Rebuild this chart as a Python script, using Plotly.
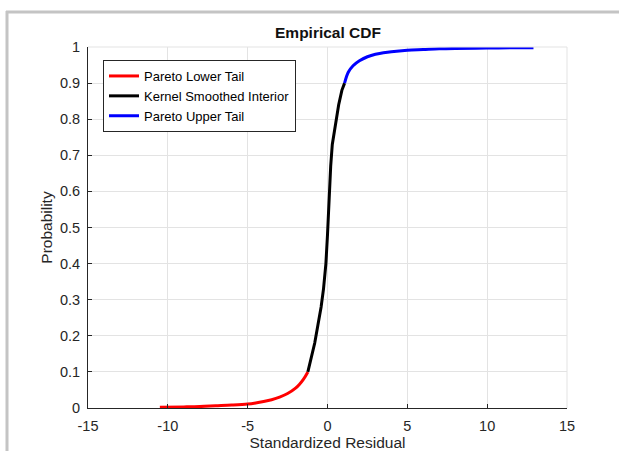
import plotly.graph_objects as go

# Data
lower_x = [-10.5, -9.0, -8.0, -7.0, -6.0, -5.0, -4.5, -4.0, -3.5, -3.0, -2.5, -2.0, -1.75, -1.5, -1.23]
lower_y = [0.002, 0.003, 0.004, 0.006, 0.008, 0.011, 0.014, 0.018, 0.023, 0.030, 0.040, 0.055, 0.066, 0.080, 0.100]

interior_x = [-1.23, -1.0, -0.8, -0.6, -0.4, -0.25, -0.1, 0.0, 0.1, 0.2, 0.3, 0.5, 0.7, 0.9, 1.07]
interior_y = [0.10, 0.14, 0.18, 0.23, 0.28, 0.33, 0.40, 0.48, 0.58, 0.67, 0.73, 0.79, 0.84, 0.88, 0.90]

upper_x = [1.07, 1.3, 1.6, 2.0, 2.5, 3.0, 3.5, 4.0, 5.0, 6.0, 7.0, 8.0, 10.0, 12.0, 12.9]
upper_y = [0.90, 0.93, 0.948, 0.962, 0.973, 0.980, 0.984, 0.987, 0.991, 0.993, 0.995, 0.996, 0.997, 0.998, 0.998]

x_ticks = [-15, -10, -5, 0, 5, 10, 15]
y_ticks = [0, 0.1, 0.2, 0.3, 0.4, 0.5, 0.6, 0.7, 0.8, 0.9, 1]
y_tick_text = ["0", "0.1", "0.2", "0.3", "0.4", "0.5", "0.6", "0.7", "0.8", "0.9", "1"]

FONT = "Liberation Sans, Arial, sans-serif"
TXT = "#262626"

fig = go.Figure()
fig.add_trace(go.Scatter(x=lower_x, y=lower_y, mode="lines", name="Pareto Lower Tail",
                         line=dict(color="#ff0000", width=3, shape="spline")))
fig.add_trace(go.Scatter(x=interior_x, y=interior_y, mode="lines", name="Kernel Smoothed Interior",
                         line=dict(color="#000000", width=3)))
fig.add_trace(go.Scatter(x=upper_x, y=upper_y, mode="lines", name="Pareto Upper Tail",
                         line=dict(color="#0000ff", width=3, shape="spline")))

L, R, T, B = 88, 52, 47, 43
W, H = 619, 451
pw, ph = W - L - R, H - T - B

def px_x(p):
    return (p - L) / pw

def px_y(p):
    return (H - B - p) / ph

fig.update_layout(
    width=W, height=H,
    margin=dict(l=L, r=R, t=T, b=B, autoexpand=False),
    paper_bgcolor="white", plot_bgcolor="white",
    font=dict(family=FONT, size=14, color=TXT),
    title=dict(text="<b>Empirical CDF</b>", x=px_x(328), xanchor="center",
               xref="paper", y=1 - 33 / H, yref="container", yanchor="middle",
               font=dict(family=FONT, size=15.5, color="#111111")),
    xaxis=dict(range=[-15, 15], tickvals=x_ticks, ticktext=[str(v) for v in x_ticks],
               automargin=False,
               showgrid=True, gridcolor="#e3e3e3", gridwidth=1, zeroline=False,
               showline=True, linecolor=TXT, linewidth=1,
               ticks="inside", ticklen=4, tickcolor=TXT, ticklabelstandoff=5,
               title=dict(text="Standardized Residual", font=dict(size=15.5, color=TXT), standoff=4),
               tickfont=dict(size=14.5, color=TXT)),
    yaxis=dict(range=[0, 1], tickvals=y_ticks, ticktext=y_tick_text,
               automargin=False,
               showgrid=True, gridcolor="#e3e3e3", gridwidth=1, zeroline=False,
               showline=True, linecolor=TXT, linewidth=1,
               ticks="inside", ticklen=4, tickcolor=TXT, ticklabelstandoff=4,
               title=dict(text="Probability", font=dict(size=15.5, color=TXT), standoff=3),
               tickfont=dict(size=14.5, color=TXT)),
    legend=dict(x=px_x(103), y=px_y(60), xanchor="left", yanchor="top",
                bgcolor="white", bordercolor=TXT, borderwidth=1,
                font=dict(family=FONT, size=13, color="#000000"),
                tracegroupgap=0),
    showlegend=True,
)

# Light edges at top and right of plot area (grid-like), and the outer gray frame
shapes = [
    dict(type="line", xref="paper", yref="paper", x0=0, x1=1, y0=1, y1=1,
         line=dict(color="#e3e3e3", width=1)),
    dict(type="line", xref="paper", yref="paper", x0=1, x1=1, y0=0, y1=1,
         line=dict(color="#e3e3e3", width=1)),
    dict(type="line", xref="paper", yref="paper", x0=px_x(6), x1=px_x(W + 2), y0=px_y(12), y1=px_y(12),
         line=dict(color="#c4c4c4", width=3)),
    dict(type="line", xref="paper", yref="paper", x0=px_x(7), x1=px_x(7), y0=px_y(11), y1=px_y(H + 2),
         line=dict(color="#c4c4c4", width=3)),
]
fig.update_layout(shapes=shapes)

fig.write_html("out.html")
